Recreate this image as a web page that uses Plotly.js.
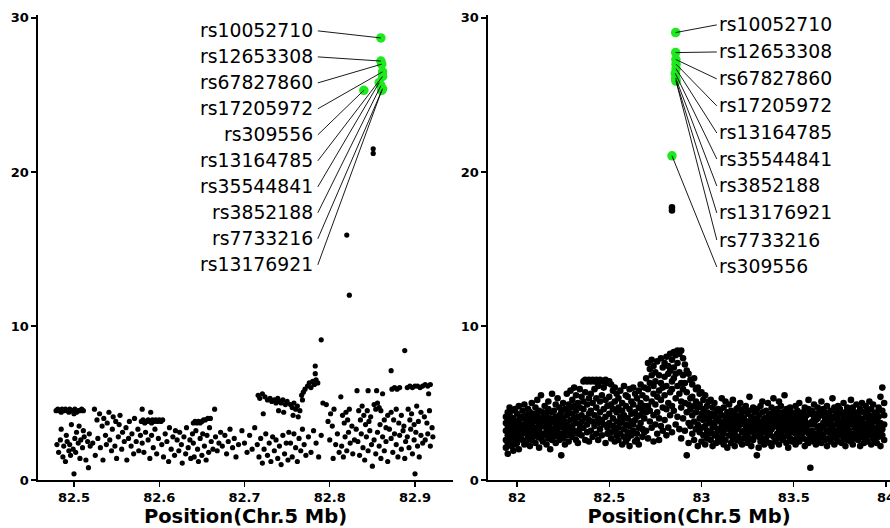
<!DOCTYPE html>
<html><head><meta charset="utf-8">
<script src="https://cdn.plot.ly/plotly-3.0.1.min.js"></script>
<style>html,body{margin:0;padding:0;background:#fff;}#chart{width:890px;height:528px;}</style>
</head><body><div id="chart"></div>
<script>
// ---------- DATA ----------
const snpIds = ["rs10052710","rs12653308","rs67827860","rs17205972","rs309556","rs13164785","rs35544841","rs3852188","rs7733216","rs13176921"];
const snpPos = [82.860,82.860,82.861,82.862,82.840,82.862,82.858,82.860,82.862,82.861];
const snpLogPLeft  = [28.7,27.2,27.0,26.5,25.3,26.2,25.8,25.6,25.4,25.3];
const snpLogPRight = [29.05,27.75,27.3,27.0,21.05,26.7,26.4,26.1,25.9,25.95];
const labelOrderLeft  = ["rs10052710","rs12653308","rs67827860","rs17205972","rs309556","rs13164785","rs35544841","rs3852188","rs7733216","rs13176921"];
const labelOrderRight = ["rs10052710","rs12653308","rs67827860","rs17205972","rs13164785","rs35544841","rs3852188","rs13176921","rs7733216","rs309556"];
const xTicksLeft = [82.5,82.6,82.7,82.8,82.9];
const xTicksRight = [82,82.5,83,83.5,84];
const yTicks = [0,10,20,30];
const xTitle = "Position(Chr.5 Mb)";

// left panel SNPs [position Mb, -log10 p]
const ptsLeftA = [
[82.479,4.5],[82.481,4.6],[82.483,4.5],[82.485,4.4],[82.486,4.6],[82.488,4.5],[82.490,4.6],[82.492,4.5],[82.494,4.4],[82.495,4.6],[82.497,4.5],[82.499,4.5],[82.501,4.6],[82.503,4.4],[82.505,4.5],[82.507,4.5],[82.509,4.6],[82.511,4.5],[82.500,4.3],
[82.480,2.3],[82.482,1.8],[82.484,2.6],[82.485,3.3],[82.487,1.5],[82.488,2.2],[82.490,1.2],[82.491,2.9],[82.492,2.5],[82.494,1.9],[82.495,2.3],[82.496,1.6],[82.497,3.6],[82.499,2.0],[82.500,0.4],[82.501,2.7],[82.502,1.8],[82.503,3.1],[82.505,2.4],[82.506,3.5],[82.507,1.4],[82.508,2.6],[82.510,2.1],[82.511,3.2],[82.512,2.8],[82.514,1.3],[82.516,2.5],[82.517,0.8],[82.518,3.0],[82.519,2.2],
[82.522,2.4],[82.524,4.6],[82.525,1.6],[82.527,3.9],[82.528,2.7],[82.530,4.3],[82.531,2.1],[82.533,3.5],[82.534,1.3],[82.535,4.0],[82.537,2.9],[82.538,2.3],[82.539,3.7],
[82.541,4.4],[82.542,2.6],[82.544,1.9],[82.545,3.3],[82.546,4.1],[82.548,2.2],[82.549,3.8],[82.550,1.4],[82.552,2.8],[82.553,3.6],[82.554,4.2],[82.556,2.0],[82.557,3.1],[82.559,2.5],
[82.561,3.4],[82.562,1.3],[82.564,2.7],[82.565,3.8],[82.567,2.2],[82.568,3.0],[82.570,1.7],[82.571,4.0],[82.573,2.5],[82.575,3.3],[82.576,1.9],[82.578,2.9],
[82.579,3.8],[82.581,3.9],[82.583,3.7],[82.585,3.8],[82.587,3.9],[82.589,3.8],[82.591,3.7],[82.592,3.9],[82.594,3.8],[82.596,3.9],[82.598,3.8],[82.600,3.9],[82.580,4.6],[82.590,4.4],
[82.580,2.4],[82.582,1.8],[82.584,3.1],[82.587,2.6],[82.589,1.4],[82.591,2.9],[82.593,2.1],[82.595,3.3],[82.597,1.7],[82.599,2.7],
[82.602,3.8],[82.604,3.9],[82.603,2.3],[82.605,1.5],[82.607,3.0],[82.609,2.5],[82.611,1.2],[82.612,3.4],[82.614,2.0],[82.616,2.8],[82.618,1.6],[82.619,3.2],
[82.621,2.6],[82.623,1.9],[82.624,3.1],[82.626,2.3],[82.627,1.1],[82.629,2.8],[82.631,1.7],[82.632,3.4],[82.634,2.1],[82.636,2.6],[82.637,1.4],[82.639,3.0],
[82.640,3.7],[82.642,3.8],[82.644,3.7],[82.646,3.8],[82.648,3.7],[82.650,3.8],[82.652,3.9],
[82.640,2.4],[82.641,1.5],[82.643,3.2],[82.645,2.0],[82.646,1.2],[82.648,2.7],[82.650,1.6],[82.651,3.0],[82.653,2.2],[82.655,1.3],[82.656,2.9],[82.658,1.8],[82.659,3.4],
[82.654,3.9],[82.657,4.0],[82.660,4.0],[82.665,4.6],
[82.661,2.5],[82.663,2.0],[82.666,2.8],[82.668,1.9],[82.670,2.4],[82.672,3.1],[82.674,2.2],
[82.677,2.9],[82.679,1.7],[82.681,2.5],[82.683,3.3],[82.686,2.1],[82.688,2.7],[82.690,1.5],[82.693,2.3],
[82.697,3.2],[82.700,2.4],[82.703,1.8],[82.706,2.9],[82.709,2.0],[82.712,3.4]
];
const ptsLeftB = [
[82.716,5.5],[82.718,5.3],[82.721,5.6],[82.724,5.4],[82.727,5.2],[82.730,5.3],[82.732,5.1],[82.722,4.3],
[82.715,2.3],[82.717,1.5],[82.719,2.7],[82.721,1.1],[82.723,2.0],[82.725,3.0],[82.727,1.6],[82.729,2.4],[82.731,1.2],[82.733,2.8],
[82.735,5.2],[82.737,5.0],[82.739,5.3],[82.741,5.1],[82.743,5.0],[82.745,5.2],[82.748,4.9],[82.750,5.1],[82.740,4.5],[82.746,4.4],
[82.735,1.9],[82.737,2.6],[82.739,1.4],[82.741,2.2],[82.743,1.0],[82.745,2.9],[82.747,1.7],[82.749,2.4],[82.751,1.3],[82.752,3.1],
[82.754,4.9],[82.756,4.7],[82.758,5.0],[82.760,4.6],[82.762,4.8],[82.765,4.5],[82.757,4.2],[82.763,4.1],
[82.767,5.5],[82.769,5.7],[82.771,5.9],[82.768,5.2],
[82.754,2.4],[82.756,1.5],[82.758,3.0],[82.760,2.1],[82.762,1.2],[82.764,2.7],[82.766,1.9],[82.768,3.3],[82.770,2.3],[82.772,1.6],
[82.774,6.1],[82.776,6.3],[82.778,6.0],[82.780,6.4],[82.782,6.2],[82.784,6.5],[82.783,6.9],[82.783,7.4],[82.786,6.3],
[82.775,2.8],[82.778,1.8],[82.781,3.2],[82.784,2.4],[82.787,1.5],[82.790,2.9],[82.792,5.0],[82.790,9.1],
[82.796,4.9],[82.798,3.8],[82.801,4.3],[82.803,3.5],[82.805,4.6],[82.807,2.3],[82.809,3.0],[82.811,1.8],[82.800,2.6],[82.804,1.4],
[82.813,5.4],[82.815,4.2],[82.817,3.7],[82.819,4.4],[82.821,3.9],[82.823,4.6],[82.826,3.5],[82.814,2.2],[82.816,1.5],[82.818,2.8],[82.820,1.9],[82.822,3.1],[82.824,2.4],[82.827,1.7],[82.829,2.6],[82.831,3.3],
[82.820,15.9],[82.823,12.0],
[82.832,5.8],[82.845,5.8],[82.834,4.5],[82.836,3.9],[82.838,4.8],[82.840,4.2],[82.842,3.6],[82.844,4.5],[82.846,3.8],[82.848,4.1],
[82.833,2.5],[82.835,1.6],[82.837,3.0],[82.839,2.1],[82.841,1.3],[82.843,2.8],[82.845,1.9],[82.847,3.2],[82.849,2.3],[82.850,0.9],
[82.851,21.5],[82.851,21.2],
[82.852,4.9],[82.854,4.6],[82.856,5.0],[82.858,4.7],[82.860,4.5],[82.855,5.8],[82.862,5.6],[82.859,3.6],[82.864,3.9],[82.866,3.4],[82.868,4.2],
[82.852,2.6],[82.854,1.7],[82.856,3.1],[82.858,2.2],[82.860,1.4],[82.862,2.8],[82.864,1.9],[82.866,2.5],[82.868,1.2],[82.870,3.3],[82.872,7.1],
[82.873,5.9],[82.876,6.0],[82.879,5.9],[82.882,6.0],[82.872,4.4],[82.875,3.9],[82.878,4.6],[82.881,3.7],[82.884,4.2],[82.887,3.5],
[82.872,2.7],[82.874,1.8],[82.876,3.0],[82.878,2.3],[82.880,1.5],[82.882,2.9],[82.884,2.0],[82.886,3.2],[82.888,1.4],[82.889,2.5],[82.888,8.4],
[82.891,6.0],[82.894,6.1],[82.897,6.0],[82.900,6.1],[82.903,6.1],[82.906,6.0],[82.909,6.1],
[82.892,4.6],[82.894,3.9],[82.896,4.3],[82.899,3.6],[82.902,4.8],[82.904,3.8],[82.907,4.4],
[82.891,2.8],[82.893,2.1],[82.895,3.3],[82.897,1.7],[82.899,2.6],[82.900,0.4],[82.901,3.1],[82.903,2.2],[82.905,1.5],[82.907,2.9],[82.909,2.4],
[82.912,6.2],[82.915,6.1],[82.918,6.2],[82.916,5.6],[82.911,4.1],[82.914,3.7],[82.917,4.5],[82.920,3.4],[82.912,2.6],[82.915,3.0],[82.918,2.2],[82.921,2.8]
];

// right panel SNPs [position Mb, -log10 p]
const ptsRightA = [
[81.94,3.2],[81.94,2.6],[81.94,4.1],[81.94,3.7],[81.94,2.1],[81.95,3.5],[81.95,4.4],[81.95,2.9],[81.95,3.9],[81.95,2.4],[81.95,1.7],[81.96,3.1],[81.96,4.7],[81.96,3.6],[81.96,2.7],[81.96,4.2],[81.97,3.3],[81.97,2.2],[81.97,3.9],[81.97,4.5],[81.97,2.9],[81.98,3.6],[81.98,2.5],[81.98,4.0],[81.98,3.1],[81.98,1.9],[81.99,3.4],[81.99,4.6],[81.99,2.8],[81.99,3.8],[81.99,2.3],
[82.00,3.0],[82.00,4.3],[82.00,2.4],[82.00,3.7],[82.01,3.3],[82.01,4.8],[82.01,2.7],[82.01,3.9],[82.01,2.0],[82.02,3.5],[82.02,4.1],[82.02,2.9],[82.02,3.2],[82.03,4.5],[82.03,2.6],[82.03,3.6],[82.03,3.0],[82.04,4.0],[82.04,2.3],[82.04,3.4],[82.04,4.9],
[82.05,3.1],[82.05,4.2],[82.05,2.5],[82.05,3.7],[82.06,3.9],[82.06,2.8],[82.06,4.6],[82.06,3.3],[82.07,2.2],[82.07,3.6],[82.07,4.4],[82.07,3.0],[82.08,4.1],[82.08,2.6],[82.08,3.5],[82.08,5.0],[82.09,3.2],[82.09,2.9],[82.09,4.3],[82.09,3.8],
[82.10,3.4],[82.10,4.7],[82.10,2.4],[82.10,3.9],[82.11,3.1],[82.11,5.2],[82.11,2.8],[82.11,4.2],[82.12,3.6],[82.12,2.1],[82.12,4.5],[82.12,3.3],[82.13,4.0],[82.13,2.7],[82.13,3.8],[82.13,5.5],[82.14,3.0],[82.14,4.4],[82.14,2.5],[82.14,3.5],
[82.15,4.1],[82.15,2.9],[82.15,3.6],[82.15,4.8],[82.16,3.2],[82.16,2.3],[82.16,4.3],[82.16,3.9],[82.17,5.1],[82.17,2.7],[82.17,3.4],[82.17,4.6],[82.18,3.0],[82.18,4.0],[82.18,2.0],[82.18,3.7],[82.19,4.4],[82.19,2.6],[82.19,3.3],[82.19,5.6],
[82.20,3.8],[82.20,2.8],[82.20,4.5],[82.20,3.1],[82.21,4.9],[82.21,3.5],[82.21,2.4],[82.21,4.1],[82.22,3.3],[82.22,5.3],[82.22,2.9],[82.22,3.9],[82.23,4.7],[82.23,2.6],[82.23,3.6],[82.23,4.2],[82.24,3.0],[82.24,1.6],[82.24,4.4],[82.24,3.7],
[82.25,4.0],[82.25,2.7],[82.25,5.0],[82.25,3.4],[82.26,3.8],[82.26,2.3],[82.26,4.6],[82.26,3.1],[82.27,5.6],[82.27,4.2],[82.27,2.9],[82.27,3.6],[82.28,4.9],[82.28,3.3],[82.28,2.5],[82.28,4.4],[82.29,3.9],[82.29,5.8],[82.29,3.0],[82.29,4.7],
[82.30,3.5],[82.30,5.2],[82.30,2.8],[82.30,4.3],[82.31,4.0],[82.31,6.0],[82.31,3.2],[82.31,4.8],[82.32,2.6],[82.32,3.7],[82.32,5.5],[82.32,4.5],[82.33,3.0],[82.33,4.1],[82.33,5.0],[82.33,2.4],[82.34,3.6],[82.34,4.7],[82.34,5.9],[82.34,3.3],
[82.35,4.2],[82.35,2.9],[82.35,5.4],[82.35,3.8],[82.36,6.4],[82.36,4.6],[82.36,3.4],[82.36,5.1],[82.37,6.5],[82.37,2.6],[82.37,4.0],[82.37,5.7],[82.38,6.4],[82.38,3.6],[82.38,4.9],[82.38,3.1],[82.39,6.5],[82.39,4.3],[82.39,5.3],[82.39,2.5],[82.39,3.9],
[82.40,6.4],[82.40,4.5],[82.40,3.2],[82.40,5.6],[82.41,6.5],[82.41,3.8],[82.41,5.0],[82.41,2.8],[82.42,6.4],[82.42,4.2],[82.42,3.5],[82.42,5.9],[82.43,6.5],[82.43,4.7],[82.43,3.0],[82.43,5.3],[82.44,6.4],[82.44,4.0],[82.44,2.6],[82.44,3.7],[82.44,6.1],
[82.45,6.5],[82.45,4.4],[82.45,3.3],[82.45,5.1],[82.46,6.4],[82.46,3.9],[82.46,5.5],[82.46,2.9],[82.47,6.4],[82.47,4.6],[82.47,3.6],[82.47,6.0],[82.48,6.5],[82.48,4.1],[82.48,2.4],[82.48,5.2],[82.49,6.3],[82.49,3.4],[82.49,4.8],[82.49,3.0]
];
const ptsRightB = [
[82.50,6.4],[82.50,4.3],[82.50,3.7],[82.50,5.4],[82.51,6.2],[82.51,3.1],[82.51,4.9],[82.51,2.7],[82.52,5.8],[82.52,4.0],[82.52,3.5],[82.52,4.6],[82.53,5.1],[82.53,3.2],[82.53,6.0],[82.53,2.5],[82.54,4.4],[82.54,3.8],[82.54,5.6],[82.54,2.9],
[82.55,4.7],[82.55,3.4],[82.55,5.3],[82.55,2.6],[82.56,4.1],[82.56,3.0],[82.56,5.8],[82.56,3.7],[82.57,4.5],[82.57,2.3],[82.57,5.0],[82.57,3.9],[82.58,4.2],[82.58,3.3],[82.58,6.1],[82.58,2.8],[82.59,4.8],[82.59,3.6],[82.59,5.5],[82.59,2.5],
[82.60,4.0],[82.60,3.1],[82.60,5.4],[82.60,2.7],[82.61,4.6],[82.61,3.5],[82.61,5.9],[82.61,2.2],[82.62,4.3],[82.62,3.8],[82.62,5.1],[82.62,2.9],[82.63,4.9],[82.63,3.2],[82.63,6.0],[82.63,3.6],[82.64,4.4],[82.64,2.5],[82.64,5.6],[82.64,3.9],
[82.65,4.1],[82.65,3.0],[82.65,5.3],[82.65,2.6],[82.66,4.7],[82.66,3.4],[82.66,5.8],[82.66,2.3],[82.67,4.2],[82.67,3.7],[82.67,5.0],[82.67,6.2],[82.68,4.5],[82.68,2.8],[82.68,5.5],[82.68,3.3],[82.69,4.0],[82.69,6.0],[82.69,3.1],[82.69,4.8],
[82.70,4.4],[82.70,3.2],[82.70,6.6],[82.70,5.3],[82.71,7.6],[82.71,4.8],[82.71,2.7],[82.71,5.9],[82.72,7.2],[82.72,3.8],[82.72,6.3],[82.72,4.5],[82.73,7.8],[82.73,5.1],[82.73,3.4],[82.73,6.8],[82.74,7.4],[82.74,4.2],[82.74,2.5],[82.74,5.6],[82.74,6.1],
[82.75,7.0],[82.75,4.9],[82.75,3.6],[82.75,6.4],[82.76,7.7],[82.76,5.4],[82.76,3.0],[82.76,4.4],[82.77,6.8],[82.77,4.0],[82.77,5.8],[82.77,2.6],[82.78,7.9],[82.78,5.2],[82.78,3.5],[82.78,6.3],[82.79,7.3],[82.79,4.7],[82.79,6.0],[82.79,3.2],
[82.80,7.6],[82.80,5.5],[82.80,3.9],[82.80,6.7],[82.81,8.0],[82.81,4.6],[82.81,2.9],[82.81,6.1],[82.82,7.4],[82.82,5.0],[82.82,3.4],[82.82,6.9],[82.83,8.2],[82.83,5.7],[82.83,4.2],[82.83,7.1],[82.84,7.8],[82.84,4.8],[82.84,3.1],[82.84,6.4],[82.84,5.9],[82.84,17.5],[82.84,17.7],
[82.85,8.3],[82.85,6.6],[82.85,4.5],[82.85,7.3],[82.86,8.1],[82.86,5.3],[82.86,3.6],[82.86,6.9],[82.87,8.4],[82.87,6.1],[82.87,4.1],[82.87,7.6],[82.88,8.2],[82.88,5.6],[82.88,3.3],[82.88,7.0],[82.89,8.4],[82.89,6.3],[82.89,4.7],[82.89,5.1],[82.89,2.7],
[82.90,7.9],[82.90,5.9],[82.90,4.0],[82.90,6.8],[82.91,7.5],[82.91,5.0],[82.91,3.2],[82.91,6.3],[82.92,7.1],[82.92,4.4],[82.92,1.6],[82.92,5.7],[82.93,6.9],[82.93,3.7],[82.93,4.9],[82.93,2.4],[82.94,6.5],[82.94,5.3],[82.94,3.5],[82.94,4.6],
[82.95,6.2],[82.95,4.2],[82.95,3.0],[82.95,5.4],[82.96,6.6],[82.96,3.8],[82.96,4.8],[82.96,2.6],[82.97,5.9],[82.97,4.4],[82.97,3.3],[82.97,5.1],[82.98,6.0],[82.98,3.6],[82.98,4.7],[82.98,2.2],[82.99,5.6],[82.99,4.0],[82.99,3.1],[82.99,4.9]
];
const ptsRightC = [
[83.00,5.7],[83.00,4.3],[83.00,3.4],[83.00,2.5],[83.01,5.2],[83.01,3.9],[83.01,4.6],[83.01,2.9],[83.02,5.5],[83.02,3.5],[83.02,4.1],[83.02,2.3],[83.03,4.8],[83.03,3.2],[83.03,4.4],[83.03,2.7],[83.04,5.1],[83.04,3.7],[83.04,4.0],[83.04,3.0],
[83.05,4.3],[83.05,3.1],[83.05,5.2],[83.05,2.6],[83.06,3.7],[83.06,4.7],[83.06,2.2],[83.06,3.4],[83.07,4.1],[83.07,2.9],[83.07,5.0],[83.07,3.6],[83.08,4.4],[83.08,3.0],[83.08,2.4],[83.08,3.9],[83.09,4.6],[83.09,3.3],[83.09,2.7],[83.09,4.0],
[83.10,3.8],[83.10,2.5],[83.10,4.5],[83.10,3.2],[83.11,5.3],[83.11,3.5],[83.11,2.8],[83.11,4.2],[83.12,3.0],[83.12,4.7],[83.12,3.7],[83.12,2.3],[83.13,4.0],[83.13,3.3],[83.13,5.1],[83.13,2.6],[83.14,3.9],[83.14,4.4],[83.14,2.1],[83.14,3.4],
[83.15,4.1],[83.15,2.9],[83.15,3.6],[83.15,4.9],[83.16,3.2],[83.16,4.5],[83.16,2.4],[83.16,3.8],[83.17,4.3],[83.17,2.7],[83.17,3.5],[83.17,5.2],[83.18,3.0],[83.18,4.0],[83.18,2.2],[83.18,3.7],[83.19,4.6],[83.19,3.3],[83.19,2.6],[83.19,4.2],
[83.20,3.9],[83.20,2.8],[83.20,4.7],[83.20,3.4],[83.21,4.2],[83.21,2.5],[83.21,3.6],[83.21,5.0],[83.22,3.1],[83.22,4.4],[83.22,2.3],[83.22,3.8],[83.23,4.6],[83.23,3.2],[83.23,2.7],[83.23,4.0],[83.24,3.5],[83.24,4.8],[83.24,2.9],[83.24,3.7],
[83.25,4.3],[83.25,3.0],[83.25,2.4],[83.25,3.8],[83.26,4.5],[83.26,3.3],[83.26,5.4],[83.26,2.7],[83.27,3.6],[83.27,4.1],[83.27,2.2],[83.27,3.9],[83.28,4.7],[83.28,3.1],[83.28,2.6],[83.28,4.0],[83.29,3.4],[83.29,4.4],[83.29,2.9],[83.29,3.7],
[83.30,3.9],[83.30,1.6],[83.30,4.6],[83.30,3.2],[83.31,2.1],[83.31,4.2],[83.31,3.5],[83.31,2.8],[83.32,4.8],[83.32,3.0],[83.32,3.8],[83.32,2.5],[83.33,4.4],[83.33,3.3],[83.33,5.1],[83.33,2.7],[83.34,3.6],[83.34,4.0],[83.34,2.3],[83.34,3.1],
[83.35,4.5],[83.35,3.4],[83.35,2.6],[83.35,3.9],[83.36,4.1],[83.36,2.9],[83.36,5.0],[83.36,3.7],[83.37,4.3],[83.37,3.1],[83.37,2.4],[83.37,3.6],[83.38,4.7],[83.38,3.3],[83.38,2.2],[83.38,4.0],[83.39,3.8],[83.39,5.3],[83.39,2.8],[83.39,4.4],
[83.40,3.5],[83.40,4.2],[83.40,2.5],[83.40,3.9],[83.41,4.6],[83.41,3.0],[83.41,2.7],[83.41,3.7],[83.42,4.3],[83.42,3.3],[83.42,5.1],[83.42,2.3],[83.43,4.0],[83.43,3.6],[83.43,2.9],[83.43,4.8],[83.44,3.2],[83.44,4.4],[83.44,2.6],[83.44,3.8],
[83.45,4.1],[83.45,2.8],[83.45,3.5],[83.45,5.5],[83.46,3.9],[83.46,4.6],[83.46,2.4],[83.46,3.2],[83.47,4.3],[83.47,3.0],[83.47,3.7],[83.47,2.1],[83.48,4.7],[83.48,3.4],[83.48,2.7],[83.48,4.0],[83.49,3.6],[83.49,4.4],[83.49,2.5],[83.49,3.1]
];
const ptsRightD = [
[83.50,4.2],[83.50,3.3],[83.50,2.6],[83.50,3.8],[83.51,4.8],[83.51,3.0],[83.51,4.0],[83.51,2.3],[83.52,3.5],[83.52,4.5],[83.52,2.8],[83.52,3.9],[83.53,4.3],[83.53,3.2],[83.53,5.0],[83.53,2.5],[83.54,3.7],[83.54,4.1],[83.54,2.9],[83.54,3.4],
[83.55,4.4],[83.55,3.1],[83.55,2.7],[83.55,3.9],[83.56,4.7],[83.56,3.5],[83.56,2.2],[83.56,4.0],[83.57,3.3],[83.57,4.2],[83.57,2.6],[83.57,3.7],[83.58,4.6],[83.58,3.0],[83.58,5.2],[83.58,2.4],[83.59,0.8],[83.59,3.6],[83.59,4.3],[83.59,2.9],
[83.60,3.8],[83.60,4.5],[83.60,2.7],[83.60,3.2],[83.61,4.1],[83.61,2.5],[83.61,3.6],[83.61,4.9],[83.62,3.0],[83.62,4.3],[83.62,2.3],[83.62,3.9],[83.63,4.7],[83.63,3.4],[83.63,2.8],[83.63,4.0],[83.64,3.5],[83.64,4.4],[83.64,2.6],[83.64,3.1],
[83.65,4.2],[83.65,3.0],[83.65,5.1],[83.65,2.4],[83.66,3.7],[83.66,4.6],[83.66,2.9],[83.66,3.4],[83.67,4.0],[83.67,2.6],[83.67,3.8],[83.67,4.4],[83.68,3.2],[83.68,4.8],[83.68,2.2],[83.68,3.6],[83.69,4.3],[83.69,3.1],[83.69,2.7],[83.69,3.9],
[83.70,4.5],[83.70,3.3],[83.70,2.5],[83.70,3.8],[83.71,4.1],[83.71,2.8],[83.71,5.3],[83.71,3.5],[83.72,4.7],[83.72,3.0],[83.72,2.3],[83.72,4.0],[83.73,3.6],[83.73,4.4],[83.73,2.7],[83.73,3.2],[83.74,4.2],[83.74,3.9],[83.74,2.5],[83.74,4.8],
[83.75,3.4],[83.75,4.6],[83.75,2.9],[83.75,3.8],[83.76,4.3],[83.76,3.1],[83.76,2.4],[83.76,3.6],[83.77,5.0],[83.77,4.0],[83.77,2.7],[83.77,3.3],[83.78,4.4],[83.78,3.7],[83.78,2.2],[83.78,3.0],[83.79,4.7],[83.79,3.5],[83.79,2.6],[83.79,4.1],
[83.80,3.9],[83.80,2.8],[83.80,4.5],[83.80,3.2],[83.81,4.2],[83.81,2.5],[83.81,3.6],[83.81,5.2],[83.82,3.0],[83.82,4.7],[83.82,3.8],[83.82,2.3],[83.83,4.1],[83.83,3.4],[83.83,2.7],[83.83,4.4],[83.84,3.7],[83.84,4.9],[83.84,2.9],[83.84,3.3],
[83.85,4.3],[83.85,3.1],[83.85,2.6],[83.85,3.8],[83.86,4.6],[83.86,3.5],[83.86,2.2],[83.86,4.0],[83.87,3.3],[83.87,5.0],[83.87,2.8],[83.87,3.9],[83.88,4.4],[83.88,3.0],[83.88,2.4],[83.88,3.6],[83.89,4.8],[83.89,3.2],[83.89,4.1],[83.89,2.7],
[83.90,3.7],[83.90,4.5],[83.90,2.5],[83.90,3.3],[83.91,4.2],[83.91,2.9],[83.91,3.9],[83.91,5.1],[83.92,3.1],[83.92,4.6],[83.92,2.3],[83.92,3.6],[83.93,4.0],[83.93,3.4],[83.93,2.7],[83.93,4.9],[83.94,3.8],[83.94,4.3],[83.94,2.6],[83.94,3.0],
[83.95,4.4],[83.95,3.2],[83.95,2.4],[83.95,3.9],[83.96,4.7],[83.96,3.5],[83.96,2.8],[83.96,4.1],[83.97,5.4],[83.97,3.0],[83.97,3.7],[83.97,2.2],[83.98,6.0],[83.98,4.5],[83.98,3.3],[83.98,2.9],[83.99,4.2],[83.99,3.6],[83.99,5.0],[83.99,2.6]
];

// ---------- LAYOUT SETTINGS ----------
const labelYLeft  = [29.16,27.47,25.78,24.10,22.41,20.72,19.03,17.35,15.66,13.97];
const labelYRight = [29.55,27.79,26.04,24.29,22.53,20.84,19.09,17.34,15.58,13.83];
const labelTailLeft = 82.786;
const labelTailRight = 83.083;

const ptsLeft = ptsLeftA.concat(ptsLeftB);
const ptsRight = ptsRightA.concat(ptsRightB, ptsRightC, ptsRightD);
const FONT = 'DejaVu Sans';
const GREEN = '#1ee81e';

const traces = [
  {type:'scatter', mode:'markers', x: ptsLeft.map(p=>p[0]), y: ptsLeft.map(p=>p[1]), xaxis:'x', yaxis:'y',
   marker:{size:5.2, color:'#000', line:{width:0}}, hoverinfo:'skip', showlegend:false},
  {type:'scatter', mode:'markers', x: ptsRight.map(p=>p[0]), y: ptsRight.map(p=>p[1]), xaxis:'x2', yaxis:'y2',
   marker:{size:6.6, color:'#000', line:{width:0}}, hoverinfo:'skip', showlegend:false},
  {type:'scatter', mode:'markers', x: snpPos, y: snpLogPLeft, text: snpIds, xaxis:'x', yaxis:'y',
   marker:{size:9.5, color:GREEN, line:{width:0}}, showlegend:false},
  {type:'scatter', mode:'markers', x: snpPos, y: snpLogPRight, text: snpIds, xaxis:'x2', yaxis:'y2',
   marker:{size:9.5, color:GREEN, line:{width:0}}, showlegend:false}
];

function makeAnn(order, labelY, tail, xref, yref, anchor, logp, pad){
  return order.map((id,i)=>{
    const k = snpIds.indexOf(id);
    return {x: snpPos[k], y: logp[k], xref: xref, yref: yref, axref: xref, ayref: yref,
      ax: tail, ay: labelY[i], text: id, showarrow: true, arrowhead: 0, arrowwidth: 0.9,
      arrowcolor: '#000', standoff: 0, startstandoff: 0, xanchor: anchor, yanchor: 'middle',
      borderpad: pad, borderwidth: 0, font: {family: FONT, size: 18.8, color: '#000'}};
  });
}

const axisCommon = {showgrid:false, zeroline:false, showline:true, linecolor:'#000', linewidth:1.6,
  ticks:'outside', ticklen:5, tickwidth:1.4, tickcolor:'#000',
  tickfont:{family:FONT, size:13, color:'#000', weight:'bold'}};

const layout = {
  width: 890, height: 528,
  margin: {l:38, r:0, t:15, b:48, pad:0},
  paper_bgcolor:'#fff', plot_bgcolor:'#fff',
  showlegend:false,
  xaxis: Object.assign({}, axisCommon, {domain:[0, 0.4871], range:[82.4578, 82.9446], tickvals:xTicksLeft, ticktext:xTicksLeft.map(String),
    anchor:'y', title:{text:xTitle, font:{family:FONT, size:19.5, color:'#000', weight:'bold'}, standoff:2}}),
  yaxis: Object.assign({}, axisCommon, {domain:[0,1], range:[0, 30.19], tickvals:yTicks, anchor:'x'}),
  xaxis2: Object.assign({}, axisCommon, {domain:[0.5282, 1], range:[81.843, 84.0217], tickvals:xTicksRight, ticktext:xTicksRight.map(String),
    anchor:'y2', ticklabeloverflow:'allow', title:{text:xTitle, font:{family:FONT, size:19.5, color:'#000', weight:'bold'}, standoff:2}}),
  yaxis2: Object.assign({}, axisCommon, {domain:[0,1], range:[0, 30.19], tickvals:yTicks, anchor:'x2'}),
  annotations: makeAnn(labelOrderLeft, labelYLeft, labelTailLeft, 'x', 'y', 'right', snpLogPLeft, 5)
    .concat(makeAnn(labelOrderRight, labelYRight, labelTailRight, 'x2', 'y2', 'left', snpLogPRight, 2))
};

Plotly.newPlot('chart', traces, layout, {staticPlot:true, displayModeBar:false});
</script>
</body></html>
